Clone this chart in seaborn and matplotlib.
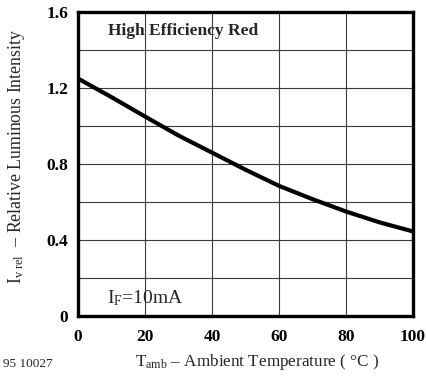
import matplotlib
matplotlib.use("Agg")
import matplotlib.pyplot as plt
import seaborn as sns
import pandas as pd

# Relative luminous intensity vs ambient temperature (High Efficiency Red, IF = 10 mA)
temperature_c = [0, 10, 20, 30, 40, 50, 60, 70, 80, 90, 100]
relative_intensity = [1.25, 1.152, 1.05, 0.95, 0.86, 0.77, 0.685, 0.615, 0.55, 0.493, 0.445]

x_ticks = [0, 20, 40, 60, 80, 100]
y_ticks = [0, 0.4, 0.8, 1.2, 1.6]
x_grid = [20, 40, 60, 80]
y_grid = [0.2, 0.4, 0.6, 0.8, 1.0, 1.2, 1.4]

sns.set_theme(style="white")
plt.rcParams["font.family"] = ["Liberation Serif", "DejaVu Serif"]
plt.rcParams["mathtext.fontset"] = "custom"
plt.rcParams["mathtext.rm"] = "Liberation Serif"
plt.rcParams["mathtext.it"] = "Liberation Serif:italic"
plt.rcParams["mathtext.bf"] = "Liberation Serif:bold"

df = pd.DataFrame({"T": temperature_c, "I": relative_intensity})

fig = plt.figure(figsize=(4.27, 3.77), dpi=100)
ax = fig.add_axes([0.1827, 0.1618, 0.7845, 0.8063])

for gx in x_grid:
    ax.axvline(gx, color="#3a3a3a", lw=0.8, zorder=1)
for gy in y_grid:
    ax.axhline(gy, color="#3a3a3a", lw=0.8, zorder=1)

sns.lineplot(data=df, x="T", y="I", ax=ax, color="black", lw=3.0, zorder=3)

ax.set_xlim(0, 100)
ax.set_ylim(0, 1.6)
ax.set_xticks(x_ticks)
ax.set_yticks(y_ticks)
ax.set_xticklabels([str(v) for v in x_ticks])
ax.set_yticklabels(["0", "0.4", "0.8", "1.2", "1.6"])
ax.tick_params(axis="both", length=0, labelsize=12.5, colors="black")
ax.tick_params(axis="x", pad=9)
ax.tick_params(axis="y", pad=7)
for lab in ax.get_xticklabels() + ax.get_yticklabels():
    lab.set_fontweight("bold")

for sp in ax.spines.values():
    sp.set_visible(True)
    sp.set_color("black")
    sp.set_linewidth(2.4)

ax.set_xlabel("")
ax.set_ylabel("")

ax.text(9, 1.5, "High Efficiency Red", fontsize=12.5, fontweight="bold",
        ha="left", va="center", zorder=4)
ax.text(8.7, 0.095, r"I$_{\mathrm{F}}$=10mA", fontsize=14,
        ha="left", va="center", zorder=4)

fig.text(0.603, 0.04, r"T$_{\mathrm{amb}}$ – Ambient Temperature ( °C )",
         fontsize=12.3, ha="center", va="center")
fig.text(0.038, 0.586, r"I$_{\mathrm{v\ rel}}$  – Relative Luminous Intensity",
         fontsize=12.8, ha="center", va="center", rotation=90)
fig.text(0.006, 0.035, "95 10027", fontsize=9.5, ha="left", va="center")

fig.savefig("out.png", dpi=100)
